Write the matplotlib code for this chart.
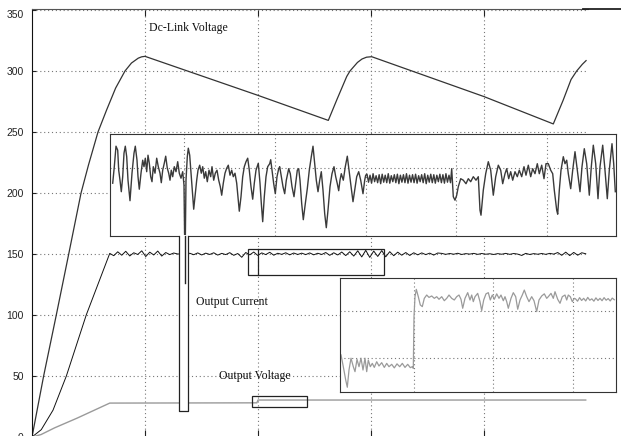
import numpy as np
import matplotlib
matplotlib.use('Agg')
import matplotlib.pyplot as plt
from matplotlib.patches import Rectangle
from matplotlib.lines import Line2D

# ---- main traces (x in grid divisions, y in V / A) ----
dc_t = [0, 0.103, 0.215, 0.325, 0.434, 0.50, 0.584, 0.66, 0.74, 0.823, 0.88, 0.94, 0.97, 1.0,
        2.0, 2.622, 2.70, 2.785, 2.814, 2.88, 2.92, 2.96, 3.006,
        4.0, 4.613, 4.70, 4.77, 4.82, 4.87, 4.903]
dc_v = [0, 50, 100, 150, 200, 223, 250, 268, 286, 300, 306.5, 310.5, 311.6, 312,
        280, 259.5, 277, 295.5, 300, 307, 309.8, 311.3, 311.7,
        279, 256.6, 276, 293, 300, 305.5, 308.5]

cur_rise_t = [0, 0.082, 0.186, 0.304, 0.48]
cur_rise_i = [0, 6, 22, 50, 100]
cur_noise = [150.5, 148.6, 151.8, 149.0, 152.2, 148.4, 151.0, 149.6, 152.6, 147.9,
             151.5, 149.2, 152.4, 148.3, 151.2, 149.5, 150.8,
             150.0, 150.0, 150.0,
             150.6, 149.4, 150.9, 149.2, 150.7, 149.6, 151.0, 149.1, 150.5, 149.5,
             151.1, 148.9, 150.4, 147.3,
             151.2, 149.3, 151.6, 148.8, 150.9, 149.5, 151.4, 149.0, 150.6, 149.7,
             151.0, 149.3, 150.8, 149.6,
             150.7, 149.5, 150.9, 149.3, 150.6, 149.6, 151.2, 148.9, 151.0, 149.2,
             151.6, 148.7, 151.8,
             148.3, 152.6, 147.6, 153.0, 147.2, 152.4, 148.0, 152.8, 147.7, 151.9, 148.6,
             151.5, 149.0, 151.2, 148.8, 151.0, 149.3, 150.9, 149.5, 150.7, 149.1, 150.8,
             150.5, 149.7, 150.4, 149.8, 150.6, 149.6, 150.3, 149.9, 150.5, 149.7,
             150.4, 149.8, 150.2, 149.6, 150.3, 149.8, 150.5, 149.7, 150.4, 149.9,
             148.8, 150.5, 149.6, 150.3, 149.8, 150.4, 149.7, 150.5, 149.9,
             151.2, 148.9, 151.5, 148.7, 151.3, 149.0, 151.0, 150.2]
spike_t = [1.354, 1.354]
spike_i = [164.8, 126]

vout_t = [0, 0.08, 0.2, 0.4, 0.688, 1.99, 2.0, 4.9]
vout_v = [0, 2, 7.5, 15.5, 27.8, 28.0, 30.3, 30.3]

# ---- inset 1: zoom of the output current (x in samples, y in A) ----
ins1_x = [2.7, 4.3, 6.0, 7.7, 8.7, 10.0, 11.3, 12.7, 14.0, 15.3,
          16.7, 18.0, 20.0, 22.0, 24.0, 25.3, 27.0, 28.0, 29.3, 31.0,
          32.7, 34.0, 35.3, 36.7, 38.0, 39.3, 40.7, 42.0, 43.3, 45.0,
          46.7, 48.3, 50.0, 51.3, 52.7, 54.3, 55.7, 57.3, 58.7, 60.0,
          61.3, 62.7, 64.3, 66.0, 67.7, 69.3, 71.0, 72.7, 74.0, 75.0,
          76.0, 77.3, 78.3, 79.7, 81.0, 82.3, 83.7, 85.0, 86.7, 88.0,
          89.7, 91.3, 92.7, 94.3, 95.7, 97.3, 99.0, 100.7, 102.0, 103.7,
          105.3, 107.0, 108.7, 110.3, 111.7, 113.3, 115.0, 116.7, 118.3, 120.0,
          121.7, 123.3, 125.0, 126.7, 128.0, 129.3, 131.0, 132.7, 134.3, 136.0,
          137.7, 139.3, 141.0, 142.7, 144.3, 146.0, 148.3, 150.0, 151.3, 152.7,
          154.3, 156.0, 157.7,
          159.7, 160.7, 162.0, 163.7, 165.3, 167.0, 168.7, 169.7, 171.3, 173.0,
          174.7, 176.3, 178.7, 180.3, 182.0, 184.0, 186.0, 187.3, 188.7, 190.0,
          191.7, 193.3, 195.3, 197.3, 199.3, 201.3, 203.0, 204.7, 206.3, 208.0,
          209.7, 211.3, 213.0, 214.7, 216.3, 218.0, 220.0, 222.0, 224.0, 225.7,
          227.3, 228.7, 230.0, 231.3, 233.3, 235.3, 237.3, 239.0, 240.7, 243.0,
          244.7, 246.7, 248.7, 250.7, 253.0, 254.7, 255.7]
ins1_y = [146.9, 150.2, 154.3, 153.5, 149.5, 147.5, 145.2, 148.2, 152.9, 154.3,
          152.2, 147.5, 143.4, 148.9, 152.9, 154.3, 151.5, 148.2, 145.7, 148.9,
          151.5, 150.2, 151.9, 149.2, 152.5, 150.9, 148.2, 147.2, 150.2, 148.9,
          151.9, 150.2, 148.9, 147.0, 149.5, 150.9, 152.3, 149.9, 148.9, 147.5,
          149.5, 148.2, 150.2, 149.2, 151.2, 148.9, 147.9, 149.2, 146.5, 130.0,
          147.5, 152.2, 153.9, 152.5, 148.9, 145.5, 141.7, 144.2, 147.5, 149.5,
          150.5, 148.9, 150.2, 147.9, 149.2, 147.2, 149.5, 148.2, 150.2, 147.5,
          148.9, 149.5, 147.5, 146.2, 144.5, 146.9, 148.9, 149.9, 150.5, 148.5,
          149.5, 148.2, 148.9, 146.9, 144.2, 141.3, 144.2, 148.2, 150.2, 151.2,
          151.9, 149.5, 146.2, 143.7, 146.9, 149.5, 150.9, 146.9, 142.9, 139.2,
          144.2, 148.2, 150.2,
          150.8, 151.6, 149.5, 146.8, 144.8, 148.2, 149.8, 150.2, 148.2, 146.2,
          144.8, 147.5, 149.8, 148.8, 146.2, 144.2, 147.5, 149.5, 149.8, 147.5,
          142.8, 139.6, 142.8, 145.8, 149.5, 152.2, 154.3, 150.8, 147.5, 145.2,
          147.5, 149.2, 145.5, 140.8, 138.0, 141.5, 146.2, 148.8, 150.2, 148.2,
          146.8, 145.4, 147.5, 148.8, 147.5, 150.2, 152.3, 149.5, 146.8, 143.2,
          145.5, 148.2, 149.2, 147.5, 144.8, 147.5, 148.5]
ins1_ripple = [148.7, 147.1, 148.5, 146.9, 148.8, 147.2, 148.4, 147.0, 148.6, 146.8,
               148.7, 147.1, 148.5, 147.0, 148.8, 146.9, 148.4, 147.2, 148.6, 147.0,
               148.7, 146.8, 148.5, 147.1, 148.6, 147.0, 148.8, 146.9, 148.5, 147.1,
               148.6, 147.0, 148.7, 146.9, 148.4, 147.2, 148.6, 147.0, 148.8, 146.8,
               148.5, 147.1, 148.7, 147.0, 148.6, 146.9, 148.5, 147.2, 148.7, 147.0,
               148.6, 146.9, 148.8, 147.1, 148.5, 147.0]
ins1_x2 = [341.7, 343.3, 345.0, 346.7, 348.3, 350.7, 353.3, 356.0, 358.3, 360.7,
           363.3, 366.0, 368.3, 370.0, 371.0, 373.3, 375.7, 378.3, 380.7, 383.3,
           385.7, 388.3, 390.7, 392.7, 395.0, 396.7, 398.7, 400.7, 402.7, 405.0,
           407.3, 409.3, 411.7, 414.0, 416.0, 418.3, 420.7, 422.7, 425.0, 427.3,
           429.3, 431.7, 434.0, 436.0, 438.3, 440.7, 442.7, 444.3, 446.7, 447.7,
           449.3, 451.0, 453.3, 455.0, 456.7, 458.3, 460.7, 462.7, 465.0, 467.3,
           470.0, 472.0, 474.3, 476.7, 479.3, 481.3, 483.3, 485.7, 488.0, 490.0,
           492.7, 494.7, 497.3, 499.3, 502.0, 503.7, 505.3]
ins1_y2 = [149.8, 144.2, 143.5, 144.5, 146.2, 147.8, 147.5, 146.8, 147.8, 147.2,
           148.2, 147.5, 148.2, 141.5, 140.5, 145.5, 148.8, 151.2, 149.5, 144.5,
           148.2, 150.5, 149.5, 146.8, 148.8, 149.8, 147.8, 149.2, 147.5, 149.2,
           148.2, 149.5, 148.2, 150.2, 148.5, 150.5, 148.2, 149.8, 148.8, 150.8,
           148.8, 150.5, 147.8, 150.8, 150.8, 149.5, 148.8, 145.5, 141.5, 140.7,
           145.5, 149.5, 152.2, 150.8, 151.5, 148.8, 145.8, 149.5, 153.2, 149.5,
           145.2, 150.2, 153.8, 150.8, 144.5, 150.2, 154.5, 150.8, 143.8, 150.2,
           154.5, 150.2, 143.8, 149.5, 154.8, 150.8, 145.2]

# ---- inset 2: zoom of the output voltage step (x in samples, y in V) ----
ins2_x = [1.0, 3.3, 5.7, 7.3, 9.0, 11.0, 13.3, 15.0, 17.0, 19.0,
          21.0, 23.0, 25.0, 26.7, 28.3, 30.3, 32.3, 34.3, 36.7, 39.0,
          41.7, 44.3, 46.7, 49.0, 51.7, 54.3, 57.0, 59.7, 62.3, 65.0,
          67.7, 70.3, 72.3, 73.3, 74.0, 75.0, 76.3, 78.3, 80.3, 82.3,
          84.3, 86.7, 89.0, 91.7, 94.3, 96.7, 99.0, 101.7, 104.3, 106.7,
          109.0, 111.7, 114.3, 116.7, 119.0, 121.0, 122.7, 125.0, 127.7, 130.0,
          131.7, 133.3, 135.0, 137.7, 140.0, 141.7, 143.7, 146.0, 148.3, 150.3,
          152.3, 154.3, 156.7, 159.0, 161.0, 163.3, 165.0, 166.7, 168.3, 171.0,
          173.3, 175.7, 177.7, 180.0, 182.3, 184.3, 186.7, 189.0, 191.7, 194.0,
          196.7, 199.0, 201.7, 204.3, 206.7, 208.3, 211.0, 213.3, 215.0, 217.7,
          220.0, 222.3, 225.0, 226.7, 228.3, 230.3, 232.3, 234.3]
ins2_y = [28.13, 27.63, 27.07, 26.76, 27.49, 27.99, 27.63, 27.42, 27.94, 27.63,
          27.99, 27.49, 27.99, 27.42, 27.91, 27.63, 27.77, 27.60, 27.84, 27.66,
          27.80, 27.60, 27.77, 27.63, 27.73, 27.58, 27.75, 27.63, 27.77, 27.60,
          27.73, 27.59, 27.63, 27.56, 29.75, 30.59, 30.90, 30.59, 30.24, 30.17,
          30.52, 30.66, 30.56, 30.62, 30.52, 30.59, 30.48, 30.59, 30.42, 30.52,
          30.66, 30.52, 30.45, 30.59, 30.66, 30.48, 30.10, 30.52, 30.76, 30.45,
          30.66, 30.38, 30.59, 30.73, 30.38, 30.00, 30.45, 30.71, 30.76, 30.45,
          30.66, 30.48, 30.71, 30.52, 30.66, 30.42, 30.59, 30.38, 30.10, 30.52,
          30.76, 30.59, 30.06, 30.45, 30.66, 30.87, 30.59, 30.38, 30.59, 30.42,
          29.96, 30.45, 30.62, 30.71, 30.52, 30.59, 30.73, 30.52, 30.80, 30.48,
          30.31, 30.59, 30.66, 30.45, 30.66, 30.59, 30.38, 30.52]
ins2_ripple = [30.50, 30.40, 30.55, 30.43, 30.52, 30.41, 30.56, 30.44, 30.50, 30.40,
               30.54, 30.43, 30.52, 30.42, 30.55, 30.44, 30.51, 30.41, 30.53, 30.46]

W, H = 621, 436


def px_rect(x0, y0, x1, y1):
    # axes rectangle from pixel corners (top-left origin)
    return [x0 / W, 1 - y1 / H, (x1 - x0) / W, (y1 - y0) / H]


dots = (0, (1, 2.5))
fig = plt.figure(figsize=(W / 100, H / 100), dpi=100)

ax = fig.add_axes(px_rect(32, 9, 588, 437))
ax.set_xlim(0, 4.92)
ax.set_ylim(0, 350.8)
ax.set_xticks([1, 2, 3, 4])
ax.set_yticks(range(0, 351, 50))
ax.grid(True, linestyle=dots, color='#777777', linewidth=0.8)
ax.spines['right'].set_visible(False)
ax.spines['bottom'].set_visible(False)
ax.spines['top'].set_color('#555555')
ax.spines['left'].set_color('#111111')
ax.tick_params(axis='x', direction='in', length=5, top=True, bottom=True,
               labelbottom=False, color='#222222')
ax.tick_params(axis='y', direction='in', length=3, labelsize=7.5, pad=6,
               color='#222222', labelcolor='#222222')
for lab in ax.get_yticklabels():
    lab.set_fontfamily('Liberation Sans')
ax.get_yticklabels()[-1].set_va('top')

cur_t = np.concatenate([cur_rise_t, np.linspace(0.688, 4.9, len(cur_noise))])
cur_i = np.concatenate([cur_rise_i, cur_noise])
ax.plot(dc_t, dc_v, color='#333333', lw=0.9)
ax.plot(cur_t, cur_i, color='#111111', lw=0.7)
ax.plot(vout_t, vout_v, color='#9a9a9a', lw=1.0)

# label boxes hide the grid
ax.add_patch(Rectangle((1.425, 94.3), 1.009, 22.1, fc='white', ec='none', zorder=1.5))
ax.add_patch(Rectangle((1.637, 38.5), 0.867, 18.9, fc='white', ec='none', zorder=1.5))
txt = dict(fontfamily='Liberation Serif', fontsize=8.5, va='center', color='#111111', zorder=3)
ax.text(1.035, 335, 'Dc-Link Voltage', **txt)
ax.text(1.449, 110.4, 'Output Current', **txt)
ax.text(1.655, 50, 'Output Voltage', **txt)

# zoom frames
ax.add_patch(Rectangle((1.912, 132.5), 1.206, 21.8, fill=False, ec='#222222', lw=0.9, zorder=3))
ax.plot([2.0, 2.0], [132.5, 154.3], color='#222222', lw=0.9, zorder=3)
ax.add_patch(Rectangle((1.947, 24.4), 0.487, 9.5, fill=False, ec='#222222', lw=0.9, zorder=3))

# inset 1
ins1 = fig.add_axes(px_rect(110, 134, 616, 236))
ins1.set_xlim(0, 506)
ins1.set_ylim(136.34, 156.74)
ins1.set_xticks([74, 165, 255.7, 346, 437])
ins1.set_yticks([150])
ins1.tick_params(length=0, labelbottom=False, labelleft=False)
ins1.grid(True, linestyle=dots, color='#777777', linewidth=0.8)
for s in ins1.spines.values():
    s.set_color('#333333')
ins1_all_x = np.concatenate([ins1_x, np.linspace(257, 340.5, len(ins1_ripple)), ins1_x2])
ins1_all_y = np.concatenate([ins1_y, ins1_ripple, ins1_y2])
ins1.plot(ins1_all_x, ins1_all_y, color='#3a3a3a', lw=1.0)

# inset 2
ins2 = fig.add_axes(px_rect(340, 278, 616, 392))
ins2.set_xlim(0, 276)
ins2.set_ylim(26.56, 31.38)
ins2.set_xticks([74, 153, 233])
ins2.set_yticks([28, 30])
ins2.tick_params(length=0, labelbottom=False, labelleft=False)
ins2.grid(True, linestyle=dots, color='#777777', linewidth=0.8)
for s in ins2.spines.values():
    s.set_color('#333333')
ins2_all_x = np.concatenate([ins2_x, np.linspace(235.5, 274.3, len(ins2_ripple))])
ins2_all_y = np.concatenate([ins2_y, ins2_ripple])
ins2.plot(ins2_all_x, ins2_all_y, color='#9a9a9a', lw=0.9)

# narrow frame hanging under inset 1, with the current spike
fig.add_artist(Rectangle((1.298, 21.3), 0.085, 144.5, fc='white', ec='none',
                         transform=ax.transData, zorder=3))
fig.add_artist(Line2D([1.298, 1.298, 1.383, 1.383], [164.8, 21.3, 21.3, 164.8],
                      color='#222222', lw=0.9, transform=ax.transData, zorder=4))
fig.add_artist(Line2D(spike_t, spike_i, color='#222222', lw=1.0,
                      transform=ax.transData, zorder=4))

fig.add_artist(Line2D([583 / W, 1], [1 - 9 / H, 1 - 9 / H], color='#222222', lw=1.3,
                      transform=fig.transFigure))

fig.savefig('out.png', dpi=100)
